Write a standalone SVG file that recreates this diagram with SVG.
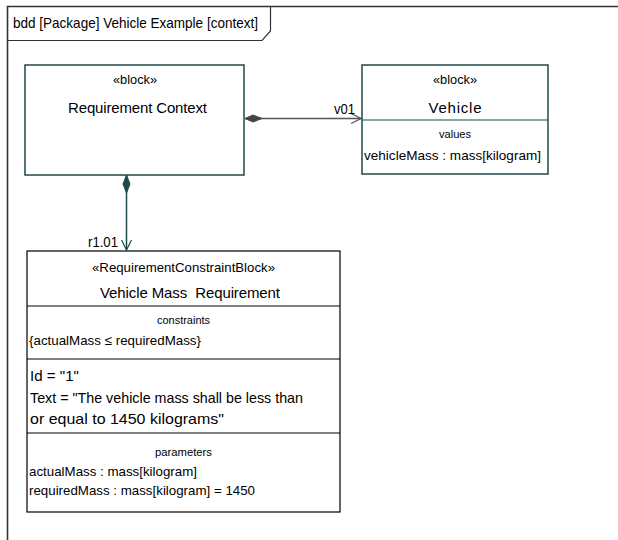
<svg xmlns="http://www.w3.org/2000/svg" width="618" height="540" viewBox="0 0 618 540">
<defs>
<style>
text{font-family:"Liberation Sans",Arial,sans-serif;fill:#000}
.t{font-size:15px}
.s{font-size:11.5px}
.m{font-size:13.5px}
.c{text-anchor:middle}
.blk{fill:#fff;stroke:#1c4a4a;stroke-width:1.5}
.rcb{fill:#fff;stroke:#000;stroke-width:1.2}
.div{stroke:#1c4a4a;stroke-width:1.2}
.divk{stroke:#000;stroke-width:1}
</style>
<marker id="open" viewBox="0 0 12 12" refX="11" refY="6" markerWidth="12" markerHeight="12" markerUnits="userSpaceOnUse" orient="auto">
<path d="M1,1 L11,6 L1,11" fill="none" stroke="context-stroke" stroke-width="1.2"/>
</marker>
</defs>
<rect width="618" height="540" fill="#fff"/>
<g id="frame">
<path d="M7.5,540 L7.5,6.5 L618,6.5" fill="none" stroke="#333" stroke-width="1.6"/>
<path d="M7.5,40.5 L262,40.5 L270.5,31 L270.5,6.5" fill="none" stroke="#333" stroke-width="1.2"/>
<text class="t" x="13" y="28" textLength="245" lengthAdjust="spacingAndGlyphs">bdd [Package] Vehicle Example [context]</text>
</g>
<g id="connectors">
<g id="v01">
<line x1="245" y1="118.5" x2="361" y2="118.5" stroke="#555" stroke-width="1.3" marker-end="url(#open)"/>
<path d="M245,118.5 L253,115 L262,118.5 L253,122 Z" fill="#444" stroke="#444" stroke-width="1"/>
<text class="t" x="355" y="114" text-anchor="end" textLength="21" lengthAdjust="spacingAndGlyphs">v01</text>
</g>
<g id="r101">
<line x1="126.5" y1="175" x2="126.5" y2="250" stroke="#1c4a4a" stroke-width="1.5" marker-end="url(#open)"/>
<path d="M126.5,175 L123,184 L126.5,193 L130,184 Z" fill="#1c4a4a" stroke="#1c4a4a" stroke-width="1"/>
<text class="t" x="118" y="247" text-anchor="end" textLength="30" lengthAdjust="spacingAndGlyphs">r1.01</text>
</g>
</g>
<g id="requirement-context">
<rect class="blk" x="25" y="65" width="219" height="110"/>
<text class="m c" x="135" y="84" textLength="44" lengthAdjust="spacingAndGlyphs">«block»</text>
<text class="t c" x="137.5" y="113" textLength="139" lengthAdjust="spacing">Requirement Context</text>
</g>
<g id="vehicle">
<rect class="blk" x="362" y="65" width="186" height="109"/>
<line class="div" x1="362" y1="120" x2="548" y2="120"/>
<text class="m c" x="455" y="84" textLength="44" lengthAdjust="spacingAndGlyphs">«block»</text>
<text class="t c" x="455" y="113" textLength="53" lengthAdjust="spacing">Vehicle</text>
<text class="s c" x="455" y="138" textLength="32" lengthAdjust="spacingAndGlyphs">values</text>
<text class="m" x="364" y="160" textLength="177" lengthAdjust="spacingAndGlyphs">vehicleMass : mass[kilogram]</text>
</g>
<g id="vehicle-mass-requirement">
<rect class="rcb" x="27" y="251" width="313" height="261"/>
<line class="divk" x1="27" y1="306" x2="340" y2="306"/>
<line class="divk" x1="27" y1="359" x2="340" y2="359"/>
<line class="divk" x1="27" y1="433" x2="340" y2="433"/>
<text class="m c" x="183.5" y="272" textLength="183" lengthAdjust="spacingAndGlyphs">«RequirementConstraintBlock»</text>
<text class="t c" x="190" y="298" textLength="180" lengthAdjust="spacing" xml:space="preserve" style="white-space:pre">Vehicle Mass  Requirement</text>
<text class="s c" x="183.5" y="324" textLength="53" lengthAdjust="spacingAndGlyphs">constraints</text>
<text class="m" x="29" y="345" textLength="172" lengthAdjust="spacingAndGlyphs">{actualMass ≤ requiredMass}</text>
<text class="t" x="30" y="381" textLength="49" lengthAdjust="spacingAndGlyphs">Id = "1"</text>
<text class="t" x="30" y="403" textLength="273" lengthAdjust="spacingAndGlyphs">Text = "The vehicle mass shall be less than</text>
<text class="t" x="30" y="424" textLength="194" lengthAdjust="spacingAndGlyphs">or equal to 1450 kilograms"</text>
<text class="s c" x="183.5" y="456" textLength="57" lengthAdjust="spacingAndGlyphs">parameters</text>
<text class="m" x="29" y="476" textLength="168" lengthAdjust="spacingAndGlyphs">actualMass : mass[kilogram]</text>
<text class="m" x="29" y="495" textLength="226" lengthAdjust="spacingAndGlyphs">requiredMass : mass[kilogram] = 1450</text>
</g>
</svg>
